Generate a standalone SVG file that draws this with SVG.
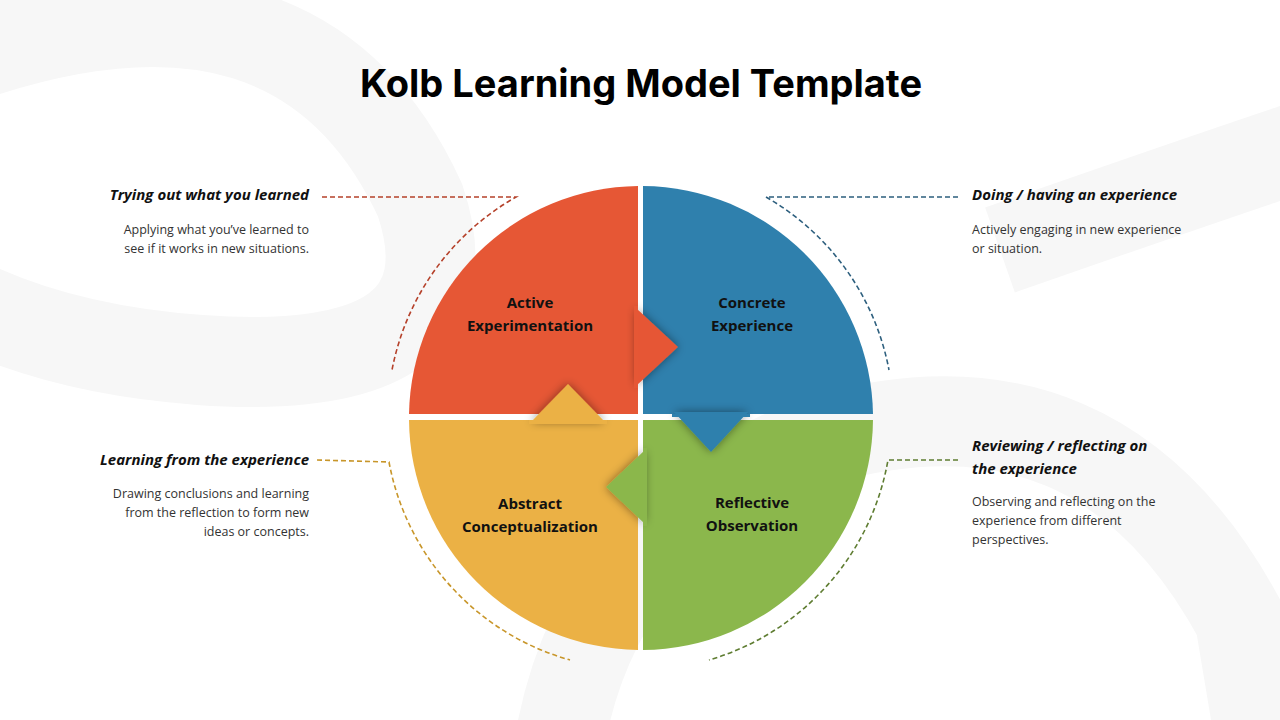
<svg xmlns="http://www.w3.org/2000/svg" width="1280" height="720" viewBox="0 0 1280 720">
<defs>
<style>
.t{font-family:"Open Sans","Noto Sans",sans-serif}
.lbl{font-family:"Open Sans","Noto Sans",sans-serif;font-weight:700;font-size:15px;fill:#111;text-anchor:middle}
.h{font-family:"Open Sans","Noto Sans",sans-serif;font-weight:700;font-style:italic;font-size:15px;fill:#111}
.d{font-family:"Open Sans","Noto Sans",sans-serif;font-size:12.5px;fill:#333}
.dash{fill:none;stroke-width:1.6;stroke-dasharray:5 3}
</style>
<filter id="sh" x="-50%" y="-50%" width="200%" height="200%"><feDropShadow dx="0" dy="0" stdDeviation="5" flood-color="#000" flood-opacity="0.45"/></filter>
</defs>
<rect width="1280" height="720" fill="#fff"/>
<g fill="none" stroke="#f7f7f7" stroke-width="90">
<path d="M-40,60 Q300,-60 420,200 Q480,380 200,360 Q60,350 -40,300"/>
<path d="M560,740 Q600,520 820,440 Q1100,360 1240,620 L1260,740"/>
<path d="M1000,250 Q1200,180 1320,140"/>
</g>
<text x="641" y="97" text-anchor="middle" style="font-family:Inter,'Liberation Sans',sans-serif;font-weight:700;font-size:38px" fill="#000">Kolb Learning Model Template</text>
<g id="connectors">
<path class="dash" stroke="#b5412a" d="M322,197 H516 A254,254 0 0 0 392,370"/>
<path class="dash" stroke="#2d5f7e" d="M958,197 H766 A254,254 0 0 1 889,370"/>
<path class="dash" stroke="#c8962a" d="M317,460 L389,462 A254,254 0 0 0 570,660"/>
<path class="dash" stroke="#5f7d32" d="M958,460 H888 A254,254 0 0 1 709,660"/>
</g>
<g id="quad-red"><path d="M638,414 V186 A232,232 0 0 0 409,414 Z" fill="#e65735"/></g>
<g id="quad-blue"><path d="M643,414 V186 A232,232 0 0 1 873,414 Z" fill="#2f80ad"/></g>
<g id="quad-green"><path d="M643,420 V650 A232,232 0 0 0 873,420 Z" fill="#8bb74c"/></g>
<g id="quad-yellow"><path d="M638,420 V650 A232,232 0 0 1 409,420 Z" fill="#ebb145"/></g>
<g id="arrows">
<path d="M636,308 L678,347 L636,386 Z" fill="#e65735" filter="url(#sh)"/>
<path d="M674,412 L711,452 L748,412 Z" fill="#2f80ad" filter="url(#sh)"/>
<path d="M645,450 L606,487 L645,524 Z" fill="#8bb74c" filter="url(#sh)"/>
<path d="M531,422 L568,384 L605,422 Z" fill="#ebb145" filter="url(#sh)"/>
<rect x="634" y="306" width="4" height="82" fill="#e65735"/>
<rect x="672" y="414" width="78" height="3" fill="#2f80ad"/>
<rect x="643" y="448" width="4" height="78" fill="#8bb74c"/>
<rect x="529" y="420" width="78" height="4" fill="#ebb145"/>
</g>
<g id="n-active"><text class="lbl" x="530" y="308">Active</text><text class="lbl" x="530" y="331">Experimentation</text></g>
<g id="n-concrete"><text class="lbl" x="752" y="308">Concrete</text><text class="lbl" x="752" y="331">Experience</text></g>
<g id="n-abstract"><text class="lbl" x="530" y="509">Abstract</text><text class="lbl" x="530" y="532">Conceptualization</text></g>
<g id="n-reflective"><text class="lbl" x="752" y="508">Reflective</text><text class="lbl" x="752" y="531">Observation</text></g>
<g id="desc-tl" text-anchor="end"><text class="h" x="309" y="200">Trying out what you learned</text><text class="d" x="309" y="234">Applying what you’ve learned to</text><text class="d" x="309" y="253">see if it works in new situations.</text></g>
<g id="desc-tr"><text class="h" x="972" y="200">Doing / having an experience</text><text class="d" x="972" y="234">Actively engaging in new experience</text><text class="d" x="972" y="253">or situation.</text></g>
<g id="desc-bl" text-anchor="end"><text class="h" x="309" y="465">Learning from the experience</text><text class="d" x="309" y="498">Drawing conclusions and learning</text><text class="d" x="309" y="517">from the reflection to form new</text><text class="d" x="309" y="536">ideas or concepts.</text></g>
<g id="desc-br"><text class="h" x="972" y="451">Reviewing / reflecting on</text><text class="h" x="972" y="474">the experience</text><text class="d" x="972" y="506">Observing and reflecting on the</text><text class="d" x="972" y="525">experience from different</text><text class="d" x="972" y="544">perspectives.</text></g>
</svg>
